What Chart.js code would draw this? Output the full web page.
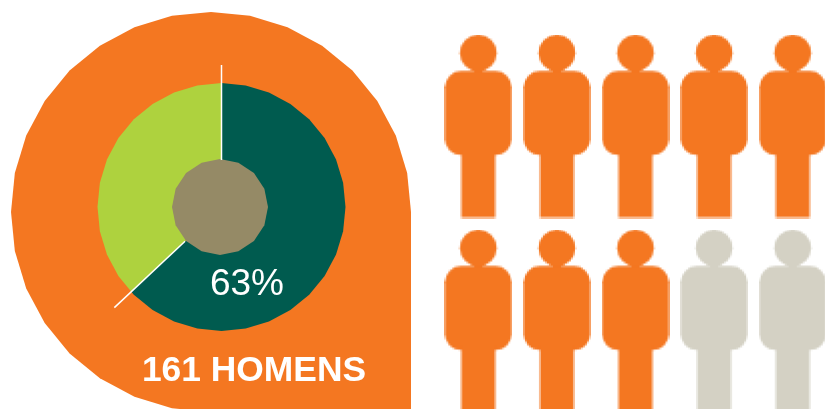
<!DOCTYPE html>
<html>
<head>
<meta charset="utf-8">
<title>161 homens</title>
<script src="https://cdn.jsdelivr.net/npm/chart.js@4"></script>
<style>
    html, body { margin: 0; padding: 0; background: #fff; }
    #page { position: relative; width: 825px; height: 409px; overflow: hidden; font-family: "Liberation Sans", Arial, sans-serif; }
    #page canvas { position: absolute; }
    #share { position: absolute; left: 187px; top: 261px; width: 120px; text-align: center; color: #fff; font-size: 37px; line-height: 44px; }
    #caption { position: absolute; left: 104px; top: 347px; width: 300px; text-align: center; color: #fff; font-size: 35.4px; font-weight: bold; line-height: 44px; white-space: nowrap; }
</style>
</head>
<body>
<div id="page">
    <canvas id="ringChart" width="443" height="414" style="left:0;top:0"></canvas>
    <canvas id="peopleChart" width="393" height="390" style="left:439px;top:29px"></canvas>
    <div id="share"></div>
    <div id="caption"></div>
</div>
<script>
const shareLabels = ['Homens', 'Restante'];
const shareValues = [63, 37];
const shareColors = ['#005b4f', '#aed23e'];

const captionCount = 161;
const captionWord = 'HOMENS';

// pictogram: ten figures, five per row, eight of them highlighted
const peopleColumns = [0, 1, 2, 3, 4, 0, 1, 2, 3, 4];
const peopleRows = [1, 1, 1, 1, 1, 0, 0, 0, 0, 0];
const peopleFilled = [1, 1, 1, 1, 1, 1, 1, 1, 0, 0];

const ORANGE = '#f47721';
const GREY = '#d4d1c4';
const TAN = '#958a66';

document.getElementById('share').textContent = shareValues[0] + '%';
document.getElementById('caption').textContent = captionCount + ' ' + captionWord;

// path through a regular polygon, vertex on top, angle clockwise
function polygonPath(ctx, cx, cy, radius, sides) {
    ctx.beginPath();
    for (let i = 0; i < sides; i++) {
        const a = i * 2 * Math.PI / sides;
        ctx.lineTo(cx + radius * Math.sin(a), cy - radius * Math.cos(a));
    }
    ctx.closePath();
}

// orange drop behind the ring, square corner at bottom right
function dropPath(ctx, cx, cy, radius) {
    ctx.beginPath();
    ctx.moveTo(cx + radius, cy);
    ctx.lineTo(cx + radius, cy + radius);
    for (let i = 16; i <= 32; i++) {
        const a = i * 2 * Math.PI / 32;
        ctx.lineTo(cx + radius * Math.sin(a), cy - radius * Math.cos(a));
    }
    for (let i = 1; i < 8; i++) {
        const a = i * 2 * Math.PI / 32;
        ctx.lineTo(cx + radius * Math.sin(a), cy - radius * Math.cos(a));
    }
    ctx.closePath();
}

const ringDecor = {
    id: 'ringDecor',
    beforeDraw(chart) {
        const ctx = chart.ctx;
        ctx.save();
        ctx.fillStyle = ORANGE;
        dropPath(ctx, 211, 212, 200);
        ctx.fill();
        ctx.restore();
    },
    beforeDatasetsDraw(chart) {
        // facet the ring edge
        const arc = chart.getDatasetMeta(0).data[0];
        chart.ctx.save();
        polygonPath(chart.ctx, arc.x, arc.y, 124, 32);
        chart.ctx.clip();
    },
    afterDatasetsDraw(chart) {
        const ctx = chart.ctx;
        ctx.restore();
        const arc = chart.getDatasetMeta(0).data[0];

        ctx.save();
        ctx.fillStyle = TAN;
        polygonPath(ctx, arc.x - 1.5, arc.y, 48, 16);
        ctx.fill();

        // white ticks on both slice boundaries
        ctx.strokeStyle = '#fff';
        ctx.lineWidth = 1.5;
        [[arc.startAngle, 47, 142], [arc.endAngle, 50, 147]].forEach(([angle, from, to]) => {
            ctx.beginPath();
            ctx.moveTo(arc.x + from * Math.cos(angle), arc.y + from * Math.sin(angle));
            ctx.lineTo(arc.x + to * Math.cos(angle), arc.y + to * Math.sin(angle));
            ctx.stroke();
        });
        ctx.restore();
    }
};

new Chart(document.getElementById('ringChart'), {
    type: 'doughnut',
    data: {
        labels: shareLabels,
        datasets: [{ data: shareValues, backgroundColor: shareColors, borderWidth: 0 }]
    },
    options: {
        responsive: false,
        animation: false,
        cutout: '30%',
        layout: { padding: { top: 82, bottom: 82, left: 96.5, right: 96.5 } },
        plugins: { legend: { display: false }, tooltip: { enabled: false } }
    },
    plugins: [ringDecor]
});

// figure sprite, built at half size and enlarged so the edges stay blocky
function personSprite(color) {
    const small = document.createElement('canvas');
    small.width = 34;
    small.height = 92;
    const s = small.getContext('2d');
    s.fillStyle = color;
    s.beginPath();
    s.arc(17, 9.2, 9.2, 0, 2 * Math.PI);
    s.fill();
    s.fillRect(15, 15, 4, 5);
    s.beginPath();
    s.roundRect(0.3, 18.3, 33.4, 42, 8);
    s.fill();
    s.fillRect(8.5, 58, 17, 33.5);

    const big = document.createElement('canvas');
    big.width = 68;
    big.height = 184;
    const b = big.getContext('2d');
    b.imageSmoothingEnabled = false;
    b.drawImage(small, 0, 0, 68, 184);
    return big;
}

const orangeFigure = personSprite(ORANGE);
const greyFigure = personSprite(GREY);

new Chart(document.getElementById('peopleChart'), {
    type: 'scatter',
    data: {
        datasets: [{
            data: peopleColumns.map((col, i) => ({ x: col, y: peopleRows[i] })),
            pointStyle: peopleFilled.map(f => f ? orangeFigure : greyFigure),
            pointRadius: 40,
            clip: false
        }]
    },
    options: {
        responsive: false,
        animation: false,
        layout: { padding: 0, autoPadding: false },
        scales: {
            x: { type: 'linear', min: -0.5, max: 4.5, display: false },
            y: { type: 'linear', min: -0.5, max: 1.5, display: false }
        },
        plugins: { legend: { display: false }, tooltip: { enabled: false } }
    }
});
</script>
</body>
</html>
